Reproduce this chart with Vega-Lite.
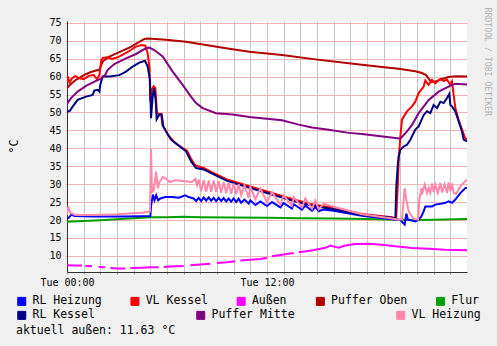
{
"$schema":"https://vega.github.io/schema/vega-lite/v6.json",
"width":400,"height":251,
"autosize":{"type":"none"},
"padding":{"left":67,"top":21,"right":30,"bottom":74},
"background":"#F0F0F0",
"config":{"view":{"fill":"white","stroke":null},"font":"DejaVu Sans Mono"},
"title":{"text":"aktuell außen: 11.63 °C","orient":"bottom","anchor":"start","frame":"group","dx":-51,"offset":3,"font":"DejaVu Sans Mono","fontSize":11.5,"fontWeight":"normal","color":"black"},
"data":{"values":[
{"s":"Puffer Oben","h":0,"v":56.8},{"s":"Puffer Oben","h":0.25,"v":58.0},{"s":"Puffer Oben","h":0.54,"v":59.1},{"s":"Puffer Oben","h":1.04,"v":60.5},{"s":"Puffer Oben","h":1.4,"v":61.2},{"s":"Puffer Oben","h":1.74,"v":61.7},{"s":"Puffer Oben","h":1.94,"v":61.9},{"s":"Puffer Oben","h":2.14,"v":64.2},{"s":"Puffer Oben","h":2.54,"v":65.6},{"s":"Puffer Oben","h":3.14,"v":66.8},{"s":"Puffer Oben","h":3.74,"v":68.1},{"s":"Puffer Oben","h":4.14,"v":69.1},{"s":"Puffer Oben","h":4.64,"v":70.5},{"s":"Puffer Oben","h":4.84,"v":70.6},{"s":"Puffer Oben","h":5.94,"v":70.3},{"s":"Puffer Oben","h":7.14,"v":69.7},{"s":"Puffer Oben","h":8.34,"v":68.8},{"s":"Puffer Oben","h":9.54,"v":67.9},{"s":"Puffer Oben","h":10.94,"v":66.9},{"s":"Puffer Oben","h":12.9,"v":66.0},{"s":"Puffer Oben","h":14.9,"v":64.8},{"s":"Puffer Oben","h":16.9,"v":63.7},{"s":"Puffer Oben","h":18.9,"v":62.7},{"s":"Puffer Oben","h":19.9,"v":62.2},{"s":"Puffer Oben","h":20.9,"v":61.5},{"s":"Puffer Oben","h":21.3,"v":61.0},{"s":"Puffer Oben","h":21.55,"v":60.4},{"s":"Puffer Oben","h":21.7,"v":59.4},{"s":"Puffer Oben","h":21.85,"v":58.5},{"s":"Puffer Oben","h":22.1,"v":58.6},{"s":"Puffer Oben","h":22.4,"v":59.2},{"s":"Puffer Oben","h":22.9,"v":59.9},{"s":"Puffer Oben","h":23.3,"v":60.1},{"s":"Puffer Oben","h":24,"v":60.0},

{"s":"VL Kessel","h":0,"v":58.5},{"s":"VL Kessel","h":0.05,"v":60.0},{"s":"VL Kessel","h":0.15,"v":58.3},{"s":"VL Kessel","h":0.3,"v":59.5},{"s":"VL Kessel","h":0.5,"v":60.2},{"s":"VL Kessel","h":0.7,"v":59.6},{"s":"VL Kessel","h":1.0,"v":59.3},{"s":"VL Kessel","h":1.3,"v":60.2},{"s":"VL Kessel","h":1.6,"v":60.5},{"s":"VL Kessel","h":1.8,"v":59.2},{"s":"VL Kessel","h":1.95,"v":60.5},{"s":"VL Kessel","h":2.05,"v":64.5},{"s":"VL Kessel","h":2.15,"v":65.2},{"s":"VL Kessel","h":2.4,"v":65.4},{"s":"VL Kessel","h":2.7,"v":64.9},{"s":"VL Kessel","h":3.1,"v":65.5},{"s":"VL Kessel","h":3.7,"v":67.0},{"s":"VL Kessel","h":4.1,"v":68.3},{"s":"VL Kessel","h":4.45,"v":68.8},{"s":"VL Kessel","h":4.7,"v":68.6},{"s":"VL Kessel","h":4.84,"v":66.5},{"s":"VL Kessel","h":4.94,"v":62.8},{"s":"VL Kessel","h":5.0,"v":53.0},{"s":"VL Kessel","h":5.1,"v":56.5},{"s":"VL Kessel","h":5.2,"v":57.3},{"s":"VL Kessel","h":5.3,"v":56.8},{"s":"VL Kessel","h":5.4,"v":49.8},{"s":"VL Kessel","h":5.55,"v":49.5},{"s":"VL Kessel","h":5.65,"v":49.6},{"s":"VL Kessel","h":5.72,"v":46.5},{"s":"VL Kessel","h":5.9,"v":45.2},{"s":"VL Kessel","h":6.1,"v":43.5},{"s":"VL Kessel","h":6.5,"v":41.5},{"s":"VL Kessel","h":6.8,"v":40.5},{"s":"VL Kessel","h":7.2,"v":39.3},{"s":"VL Kessel","h":7.45,"v":37.0},{"s":"VL Kessel","h":7.7,"v":35.2},{"s":"VL Kessel","h":8.2,"v":34.5},{"s":"VL Kessel","h":8.8,"v":33.1},{"s":"VL Kessel","h":9.6,"v":31.3},{"s":"VL Kessel","h":10.6,"v":29.9},{"s":"VL Kessel","h":11.6,"v":28.5},{"s":"VL Kessel","h":12.6,"v":27.1},{"s":"VL Kessel","h":13.6,"v":25.7},{"s":"VL Kessel","h":14.6,"v":24.5},{"s":"VL Kessel","h":16,"v":23.4},{"s":"VL Kessel","h":17.7,"v":21.7},{"s":"VL Kessel","h":19.5,"v":20.8},{"s":"VL Kessel","h":19.75,"v":20.4},{"s":"VL Kessel","h":19.85,"v":30.0},{"s":"VL Kessel","h":19.9,"v":36.8},{"s":"VL Kessel","h":20.0,"v":43.3},{"s":"VL Kessel","h":20.1,"v":48.0},{"s":"VL Kessel","h":20.4,"v":50.3},{"s":"VL Kessel","h":20.7,"v":51.7},{"s":"VL Kessel","h":20.9,"v":53.0},{"s":"VL Kessel","h":21.1,"v":55.4},{"s":"VL Kessel","h":21.4,"v":57.2},{"s":"VL Kessel","h":21.5,"v":58.9},{"s":"VL Kessel","h":21.7,"v":57.7},{"s":"VL Kessel","h":21.9,"v":59.1},{"s":"VL Kessel","h":22.1,"v":58.1},{"s":"VL Kessel","h":22.4,"v":59.3},{"s":"VL Kessel","h":22.6,"v":58.8},{"s":"VL Kessel","h":22.8,"v":59.1},{"s":"VL Kessel","h":23.0,"v":57.7},{"s":"VL Kessel","h":23.1,"v":58.6},{"s":"VL Kessel","h":23.2,"v":54.9},{"s":"VL Kessel","h":23.3,"v":51.2},{"s":"VL Kessel","h":23.5,"v":47.9},{"s":"VL Kessel","h":23.7,"v":45.2},{"s":"VL Kessel","h":23.9,"v":42.8},{"s":"VL Kessel","h":24,"v":42.4},

{"s":"Außen","h":0,"v":7.4},{"s":"Außen","h":0.5,"v":7.3},{"s":"Außen","h":0.9,"v":7.3},{"s":"Außen","h":1.0,"v":null},{"s":"Außen","h":1.1,"v":7.2},{"s":"Außen","h":1.5,"v":7.1},{"s":"Außen","h":1.7,"v":null},{"s":"Außen","h":1.9,"v":6.9},{"s":"Außen","h":2.3,"v":6.8},{"s":"Außen","h":2.45,"v":null},{"s":"Außen","h":2.6,"v":6.6},{"s":"Außen","h":3.0,"v":6.5},{"s":"Außen","h":3.5,"v":6.5},{"s":"Außen","h":3.6,"v":null},{"s":"Außen","h":3.8,"v":6.6},{"s":"Außen","h":4.5,"v":6.7},{"s":"Außen","h":5.0,"v":6.8},{"s":"Außen","h":5.5,"v":6.8},{"s":"Außen","h":5.6,"v":null},{"s":"Außen","h":5.8,"v":6.9},{"s":"Außen","h":6.5,"v":7.1},{"s":"Außen","h":7.0,"v":7.2},{"s":"Außen","h":7.15,"v":null},{"s":"Außen","h":7.4,"v":7.4},{"s":"Außen","h":8.0,"v":7.6},{"s":"Außen","h":8.6,"v":7.8},{"s":"Außen","h":8.75,"v":null},{"s":"Außen","h":9.0,"v":8.0},{"s":"Außen","h":9.6,"v":8.2},{"s":"Außen","h":10.1,"v":8.5},{"s":"Außen","h":10.25,"v":null},{"s":"Außen","h":10.4,"v":8.7},{"s":"Außen","h":11.0,"v":8.9},{"s":"Außen","h":11.6,"v":9.1},{"s":"Außen","h":12.0,"v":9.5},{"s":"Außen","h":12.15,"v":null},{"s":"Außen","h":12.3,"v":9.9},{"s":"Außen","h":13.0,"v":10.4},{"s":"Außen","h":13.6,"v":10.8},{"s":"Außen","h":13.75,"v":null},{"s":"Außen","h":13.9,"v":11.0},{"s":"Außen","h":14.6,"v":11.4},{"s":"Außen","h":15.2,"v":12.0},{"s":"Außen","h":15.6,"v":12.4},{"s":"Außen","h":15.8,"v":12.9},{"s":"Außen","h":16.3,"v":12.3},{"s":"Außen","h":16.7,"v":12.9},{"s":"Außen","h":17.3,"v":13.3},{"s":"Außen","h":18.1,"v":13.4},{"s":"Außen","h":18.9,"v":13.1},{"s":"Außen","h":19.7,"v":12.7},{"s":"Außen","h":20.7,"v":12.2},{"s":"Außen","h":21.7,"v":12.0},{"s":"Außen","h":22.7,"v":11.7},{"s":"Außen","h":24,"v":11.6},

{"s":"Flur","h":0,"v":19.5},{"s":"Flur","h":1,"v":19.7},{"s":"Flur","h":2,"v":19.9},{"s":"Flur","h":3,"v":20.2},{"s":"Flur","h":4,"v":20.5},{"s":"Flur","h":5,"v":20.8},{"s":"Flur","h":6,"v":20.8},{"s":"Flur","h":7,"v":20.9},{"s":"Flur","h":8,"v":20.8},{"s":"Flur","h":10,"v":20.7},{"s":"Flur","h":12,"v":20.6},{"s":"Flur","h":14,"v":20.5},{"s":"Flur","h":16,"v":20.4},{"s":"Flur","h":18,"v":20.3},{"s":"Flur","h":20,"v":20.1},{"s":"Flur","h":21,"v":20.0},{"s":"Flur","h":22,"v":20.1},{"s":"Flur","h":24,"v":20.3},

{"s":"RL Heizung","h":0,"v":20.4},{"s":"RL Heizung","h":0.1,"v":20.6},{"s":"RL Heizung","h":0.26,"v":21.5},{"s":"RL Heizung","h":0.45,"v":21.1},{"s":"RL Heizung","h":1.5,"v":21.0},{"s":"RL Heizung","h":3.5,"v":21.0},{"s":"RL Heizung","h":5.0,"v":21.1},{"s":"RL Heizung","h":5.05,"v":24.1},{"s":"RL Heizung","h":5.15,"v":27.1},{"s":"RL Heizung","h":5.25,"v":25.5},{"s":"RL Heizung","h":5.35,"v":26.9},{"s":"RL Heizung","h":5.47,"v":25.5},{"s":"RL Heizung","h":5.6,"v":26.0},{"s":"RL Heizung","h":5.9,"v":26.4},{"s":"RL Heizung","h":6.3,"v":26.4},{"s":"RL Heizung","h":6.7,"v":26.2},{"s":"RL Heizung","h":7.1,"v":26.9},{"s":"RL Heizung","h":7.3,"v":26.4},{"s":"RL Heizung","h":7.6,"v":26.0},{"s":"RL Heizung","h":7.75,"v":25.3},{"s":"RL Heizung","h":7.9,"v":26.2},{"s":"RL Heizung","h":8.05,"v":25.3},{"s":"RL Heizung","h":8.2,"v":26.3},{"s":"RL Heizung","h":8.35,"v":25.4},{"s":"RL Heizung","h":8.5,"v":26.3},{"s":"RL Heizung","h":8.65,"v":25.4},{"s":"RL Heizung","h":8.8,"v":26.2},{"s":"RL Heizung","h":8.95,"v":25.3},{"s":"RL Heizung","h":9.1,"v":26.2},{"s":"RL Heizung","h":9.25,"v":25.3},{"s":"RL Heizung","h":9.4,"v":26.1},{"s":"RL Heizung","h":9.55,"v":25.2},{"s":"RL Heizung","h":9.7,"v":26.0},{"s":"RL Heizung","h":9.85,"v":25.1},{"s":"RL Heizung","h":10.0,"v":26.0},{"s":"RL Heizung","h":10.15,"v":25.0},{"s":"RL Heizung","h":10.3,"v":25.9},{"s":"RL Heizung","h":10.45,"v":24.8},{"s":"RL Heizung","h":10.65,"v":25.7},{"s":"RL Heizung","h":10.9,"v":24.6},{"s":"RL Heizung","h":11.0,"v":25.5},{"s":"RL Heizung","h":11.3,"v":24.2},{"s":"RL Heizung","h":11.6,"v":25.2},{"s":"RL Heizung","h":12.0,"v":23.9},{"s":"RL Heizung","h":12.3,"v":25.0},{"s":"RL Heizung","h":12.8,"v":23.5},{"s":"RL Heizung","h":13.0,"v":24.7},{"s":"RL Heizung","h":13.5,"v":23.2},{"s":"RL Heizung","h":13.6,"v":24.4},{"s":"RL Heizung","h":14.1,"v":22.9},{"s":"RL Heizung","h":14.3,"v":24.0},{"s":"RL Heizung","h":14.7,"v":22.6},{"s":"RL Heizung","h":14.9,"v":23.6},{"s":"RL Heizung","h":15.1,"v":22.5},{"s":"RL Heizung","h":15.4,"v":22.9},{"s":"RL Heizung","h":16.0,"v":22.6},{"s":"RL Heizung","h":17.7,"v":21.2},{"s":"RL Heizung","h":19.5,"v":20.2},{"s":"RL Heizung","h":20.0,"v":20.0},{"s":"RL Heizung","h":20.26,"v":18.7},{"s":"RL Heizung","h":20.36,"v":21.8},{"s":"RL Heizung","h":20.46,"v":20.1},{"s":"RL Heizung","h":20.9,"v":19.6},{"s":"RL Heizung","h":21.1,"v":20.1},{"s":"RL Heizung","h":21.26,"v":21.0},{"s":"RL Heizung","h":21.4,"v":22.4},{"s":"RL Heizung","h":21.5,"v":23.8},{"s":"RL Heizung","h":21.9,"v":23.8},{"s":"RL Heizung","h":22.1,"v":24.3},{"s":"RL Heizung","h":22.5,"v":24.6},{"s":"RL Heizung","h":22.7,"v":24.8},{"s":"RL Heizung","h":22.9,"v":25.2},{"s":"RL Heizung","h":23.1,"v":24.8},{"s":"RL Heizung","h":23.3,"v":25.7},{"s":"RL Heizung","h":23.6,"v":27.5},{"s":"RL Heizung","h":23.9,"v":28.9},{"s":"RL Heizung","h":24,"v":29.0},

{"s":"RL Kessel","h":0,"v":50.3},{"s":"RL Kessel","h":0.15,"v":50.3},{"s":"RL Kessel","h":0.35,"v":51.7},{"s":"RL Kessel","h":0.64,"v":53.5},{"s":"RL Kessel","h":1.14,"v":54.4},{"s":"RL Kessel","h":1.54,"v":54.9},{"s":"RL Kessel","h":1.64,"v":56.1},{"s":"RL Kessel","h":1.84,"v":56.3},{"s":"RL Kessel","h":1.94,"v":55.8},{"s":"RL Kessel","h":2.0,"v":57.7},{"s":"RL Kessel","h":2.14,"v":60.0},{"s":"RL Kessel","h":2.54,"v":60.0},{"s":"RL Kessel","h":3.14,"v":60.4},{"s":"RL Kessel","h":3.54,"v":61.4},{"s":"RL Kessel","h":3.94,"v":62.8},{"s":"RL Kessel","h":4.34,"v":63.9},{"s":"RL Kessel","h":4.68,"v":64.4},{"s":"RL Kessel","h":4.84,"v":62.8},{"s":"RL Kessel","h":4.98,"v":59.1},{"s":"RL Kessel","h":5.04,"v":48.4},{"s":"RL Kessel","h":5.14,"v":54.4},{"s":"RL Kessel","h":5.22,"v":56.8},{"s":"RL Kessel","h":5.32,"v":53.5},{"s":"RL Kessel","h":5.38,"v":48.1},{"s":"RL Kessel","h":5.54,"v":49.4},{"s":"RL Kessel","h":5.68,"v":49.4},{"s":"RL Kessel","h":5.78,"v":46.1},{"s":"RL Kessel","h":5.94,"v":44.7},{"s":"RL Kessel","h":6.24,"v":42.4},{"s":"RL Kessel","h":6.74,"v":40.6},{"s":"RL Kessel","h":7.14,"v":39.2},{"s":"RL Kessel","h":7.44,"v":36.4},{"s":"RL Kessel","h":7.74,"v":34.5},{"s":"RL Kessel","h":8.2,"v":34.1},{"s":"RL Kessel","h":8.8,"v":32.7},{"s":"RL Kessel","h":9.6,"v":30.9},{"s":"RL Kessel","h":10.6,"v":29.5},{"s":"RL Kessel","h":11.6,"v":28.1},{"s":"RL Kessel","h":12.6,"v":26.7},{"s":"RL Kessel","h":13.6,"v":25.3},{"s":"RL Kessel","h":14.6,"v":24.1},{"s":"RL Kessel","h":16,"v":23.0},{"s":"RL Kessel","h":17.7,"v":21.4},{"s":"RL Kessel","h":19.5,"v":20.6},{"s":"RL Kessel","h":19.7,"v":20.3},{"s":"RL Kessel","h":19.76,"v":29.4},{"s":"RL Kessel","h":19.84,"v":35.0},{"s":"RL Kessel","h":19.9,"v":37.7},{"s":"RL Kessel","h":20.0,"v":39.6},{"s":"RL Kessel","h":20.2,"v":40.5},{"s":"RL Kessel","h":20.4,"v":41.0},{"s":"RL Kessel","h":20.6,"v":42.4},{"s":"RL Kessel","h":20.9,"v":45.2},{"s":"RL Kessel","h":21.1,"v":46.1},{"s":"RL Kessel","h":21.4,"v":49.3},{"s":"RL Kessel","h":21.6,"v":50.3},{"s":"RL Kessel","h":21.8,"v":49.8},{"s":"RL Kessel","h":22.0,"v":52.1},{"s":"RL Kessel","h":22.2,"v":51.2},{"s":"RL Kessel","h":22.4,"v":53.0},{"s":"RL Kessel","h":22.6,"v":52.6},{"s":"RL Kessel","h":22.8,"v":54.0},{"s":"RL Kessel","h":22.94,"v":55.2},{"s":"RL Kessel","h":23.0,"v":52.1},{"s":"RL Kessel","h":23.1,"v":51.7},{"s":"RL Kessel","h":23.3,"v":50.3},{"s":"RL Kessel","h":23.5,"v":47.5},{"s":"RL Kessel","h":23.7,"v":44.7},{"s":"RL Kessel","h":23.8,"v":42.4},{"s":"RL Kessel","h":24,"v":41.9},

{"s":"Puffer Mitte","h":0,"v":52.4},{"s":"Puffer Mitte","h":0.24,"v":54.0},{"s":"Puffer Mitte","h":0.64,"v":55.8},{"s":"Puffer Mitte","h":1.14,"v":57.4},{"s":"Puffer Mitte","h":1.74,"v":58.8},{"s":"Puffer Mitte","h":2.04,"v":59.4},{"s":"Puffer Mitte","h":2.3,"v":60.5},{"s":"Puffer Mitte","h":2.44,"v":61.9},{"s":"Puffer Mitte","h":2.84,"v":63.5},{"s":"Puffer Mitte","h":3.54,"v":65.1},{"s":"Puffer Mitte","h":4.14,"v":66.3},{"s":"Puffer Mitte","h":4.74,"v":67.9},{"s":"Puffer Mitte","h":4.94,"v":68.1},{"s":"Puffer Mitte","h":5.24,"v":67.4},{"s":"Puffer Mitte","h":5.74,"v":65.6},{"s":"Puffer Mitte","h":6.34,"v":61.4},{"s":"Puffer Mitte","h":6.94,"v":57.7},{"s":"Puffer Mitte","h":7.44,"v":54.4},{"s":"Puffer Mitte","h":7.74,"v":52.6},{"s":"Puffer Mitte","h":8.14,"v":51.2},{"s":"Puffer Mitte","h":8.94,"v":49.8},{"s":"Puffer Mitte","h":9.94,"v":49.4},{"s":"Puffer Mitte","h":10.94,"v":48.7},{"s":"Puffer Mitte","h":12.9,"v":47.8},{"s":"Puffer Mitte","h":13.9,"v":46.6},{"s":"Puffer Mitte","h":14.7,"v":45.8},{"s":"Puffer Mitte","h":15.7,"v":45.2},{"s":"Puffer Mitte","h":16.9,"v":44.3},{"s":"Puffer Mitte","h":17.7,"v":44.0},{"s":"Puffer Mitte","h":19.7,"v":42.9},{"s":"Puffer Mitte","h":20.0,"v":42.7},{"s":"Puffer Mitte","h":20.4,"v":44.7},{"s":"Puffer Mitte","h":20.7,"v":46.5},{"s":"Puffer Mitte","h":21.1,"v":49.8},{"s":"Puffer Mitte","h":21.7,"v":53.5},{"s":"Puffer Mitte","h":22.3,"v":55.8},{"s":"Puffer Mitte","h":23.1,"v":57.7},{"s":"Puffer Mitte","h":23.3,"v":58.0},{"s":"Puffer Mitte","h":24,"v":57.8},

{"s":"VL Heizung","h":0,"v":21.5},{"s":"VL Heizung","h":0.08,"v":23.8},{"s":"VL Heizung","h":0.2,"v":22.0},{"s":"VL Heizung","h":0.5,"v":21.4},{"s":"VL Heizung","h":1.5,"v":21.4},{"s":"VL Heizung","h":3.0,"v":21.6},{"s":"VL Heizung","h":4.5,"v":22.0},{"s":"VL Heizung","h":4.98,"v":22.4},{"s":"VL Heizung","h":5.04,"v":39.9},{"s":"VL Heizung","h":5.1,"v":27.8},{"s":"VL Heizung","h":5.2,"v":28.3},{"s":"VL Heizung","h":5.35,"v":33.5},{"s":"VL Heizung","h":5.45,"v":28.8},{"s":"VL Heizung","h":5.55,"v":30.6},{"s":"VL Heizung","h":5.75,"v":32.0},{"s":"VL Heizung","h":5.95,"v":31.5},{"s":"VL Heizung","h":6.15,"v":30.6},{"s":"VL Heizung","h":6.5,"v":31.1},{"s":"VL Heizung","h":7.1,"v":30.8},{"s":"VL Heizung","h":7.5,"v":30.6},{"s":"VL Heizung","h":7.7,"v":31.5},{"s":"VL Heizung","h":7.8,"v":29.7},{"s":"VL Heizung","h":7.9,"v":31.3},{"s":"VL Heizung","h":8.05,"v":28.0},{"s":"VL Heizung","h":8.2,"v":31.2},{"s":"VL Heizung","h":8.35,"v":27.9},{"s":"VL Heizung","h":8.5,"v":31.0},{"s":"VL Heizung","h":8.65,"v":27.8},{"s":"VL Heizung","h":8.8,"v":31.0},{"s":"VL Heizung","h":8.95,"v":27.8},{"s":"VL Heizung","h":9.1,"v":30.8},{"s":"VL Heizung","h":9.25,"v":27.6},{"s":"VL Heizung","h":9.4,"v":30.6},{"s":"VL Heizung","h":9.55,"v":27.5},{"s":"VL Heizung","h":9.7,"v":30.4},{"s":"VL Heizung","h":9.85,"v":27.3},{"s":"VL Heizung","h":10.0,"v":30.2},{"s":"VL Heizung","h":10.15,"v":27.2},{"s":"VL Heizung","h":10.3,"v":30.0},{"s":"VL Heizung","h":10.45,"v":27.0},{"s":"VL Heizung","h":10.65,"v":29.6},{"s":"VL Heizung","h":10.9,"v":26.2},{"s":"VL Heizung","h":11.0,"v":29.2},{"s":"VL Heizung","h":11.3,"v":25.8},{"s":"VL Heizung","h":11.6,"v":28.8},{"s":"VL Heizung","h":12.0,"v":25.0},{"s":"VL Heizung","h":12.3,"v":27.8},{"s":"VL Heizung","h":12.8,"v":24.3},{"s":"VL Heizung","h":13.0,"v":26.9},{"s":"VL Heizung","h":13.5,"v":24.0},{"s":"VL Heizung","h":13.6,"v":26.4},{"s":"VL Heizung","h":14.1,"v":23.5},{"s":"VL Heizung","h":14.3,"v":26.0},{"s":"VL Heizung","h":14.7,"v":23.2},{"s":"VL Heizung","h":14.9,"v":25.4},{"s":"VL Heizung","h":15.1,"v":23.0},{"s":"VL Heizung","h":15.4,"v":24.5},{"s":"VL Heizung","h":16.0,"v":23.7},{"s":"VL Heizung","h":17.7,"v":21.6},{"s":"VL Heizung","h":19.5,"v":20.4},{"s":"VL Heizung","h":19.9,"v":20.1},{"s":"VL Heizung","h":20.1,"v":20.2},{"s":"VL Heizung","h":20.26,"v":28.9},{"s":"VL Heizung","h":20.36,"v":25.7},{"s":"VL Heizung","h":20.5,"v":22.4},{"s":"VL Heizung","h":20.8,"v":20.3},{"s":"VL Heizung","h":21.06,"v":20.1},{"s":"VL Heizung","h":21.14,"v":25.7},{"s":"VL Heizung","h":21.26,"v":28.9},{"s":"VL Heizung","h":21.3,"v":27.1},{"s":"VL Heizung","h":21.46,"v":29.9},{"s":"VL Heizung","h":21.6,"v":27.5},{"s":"VL Heizung","h":21.7,"v":28.9},{"s":"VL Heizung","h":21.8,"v":27.6},{"s":"VL Heizung","h":21.9,"v":30.2},{"s":"VL Heizung","h":22.0,"v":27.8},{"s":"VL Heizung","h":22.1,"v":29.8},{"s":"VL Heizung","h":22.25,"v":27.5},{"s":"VL Heizung","h":22.4,"v":30.3},{"s":"VL Heizung","h":22.5,"v":27.7},{"s":"VL Heizung","h":22.65,"v":30.0},{"s":"VL Heizung","h":22.8,"v":27.6},{"s":"VL Heizung","h":22.9,"v":30.5},{"s":"VL Heizung","h":23.0,"v":28.0},{"s":"VL Heizung","h":23.1,"v":30.2},{"s":"VL Heizung","h":23.2,"v":27.5},{"s":"VL Heizung","h":23.35,"v":27.3},{"s":"VL Heizung","h":23.6,"v":29.4},{"s":"VL Heizung","h":23.9,"v":30.8},{"s":"VL Heizung","h":24,"v":31.2}
]},
"layer":[
{
"transform":[{"filter":{"field":"s","oneOf":["RL Heizung","VL Kessel","Außen","Puffer Oben","Flur"]}}],
"mark":{"type":"line","strokeWidth":2,"invalid":"break-paths-show-domains","clip":true},
"encoding":{
"x":{"field":"h","type":"quantitative","scale":{"domain":[0,24],"nice":false,"zero":false},
"axis":{"orient":"bottom","title":null,"values":[0,1,2,3,4,5,6,7,8,9,10,11,12,13,14,15,16,17,18,19,20,21,22,23],"labelExpr":"datum.value == 0 ? 'Tue 00:00' : (datum.value == 12 ? 'Tue 12:00' : '')","labelOverlap":false,"labelFont":"DejaVu Sans Mono","labelFontSize":10,"labelColor":"black","labelPadding":3,"labelFlush":false,"grid":false,"ticks":true,"tickSize":2,"tickColor":"#A0A0A0","domain":true,"domainColor":"#303030","domainWidth":1,"zindex":1}},
"y":{"field":"v","type":"quantitative","scale":{"domain":[5.5,75.5],"nice":false,"zero":false},
"axis":{"orient":"left","title":"°C","titleFont":"DejaVu Sans Mono","titleFontSize":11.5,"titleFontWeight":"normal","titleColor":"black","titleX":-53,"titleY":125,"titleAlign":"center","titleBaseline":"middle","titleAngle":270,"values":[10,15,20,25,30,35,40,45,50,55,60,65,70,75],"labelFont":"DejaVu Sans Mono","labelFontSize":10,"labelColor":"black","labelPadding":4,"grid":true,"gridColor":"#F2B4B4","ticks":true,"tickSize":2,"tickColor":"#F2B4B4","domain":true,"domainColor":"#303030","domainWidth":1}},
"color":{"field":"s","type":"nominal","scale":{"domain":["RL Heizung","VL Kessel","Außen","Puffer Oben","Flur"],"range":["#0000FF","#FF0000","#FF00FF","#B00000","#00A000"]},
"legend":{"orient":"none","legendX":-51,"legendY":274.5,"direction":"horizontal","columns":5,"title":null,"symbolType":"square","symbolSize":64,"symbolStrokeWidth":1,"labelFont":"DejaVu Sans Mono","labelFontSize":11.5,"labelColor":"black","labelOffset":5,"columnPadding":26.2,"padding":0,"encode":{"symbols":{"update":{"fill":{"scale":"color","field":"value"},"stroke":{"value":"black"},"strokeWidth":{"value":1},"opacity":{"value":1}}}}}}
}
},
{
"transform":[{"filter":{"field":"s","oneOf":["RL Kessel","Puffer Mitte","VL Heizung"]}}],
"mark":{"type":"line","strokeWidth":2,"clip":true},
"encoding":{
"x":{"field":"h","type":"quantitative","scale":{"domain":[0,24],"nice":false,"zero":false},
"axis":{"orient":"bottom","title":null,"values":[1,2,3,4,5,6,7,8,9,10,11,12,13,14,15,16,17,18,19,20,21,22,23],"labels":false,"ticks":false,"domain":false,"grid":true,"gridColor":{"condition":{"test":"datum.value % 6 === 0","value":"#F2B4B4"},"value":"#C4C4C4"},"gridWidth":1}},
"y":{"field":"v","type":"quantitative","scale":{"domain":[5.5,75.5],"nice":false,"zero":false},
"axis":{"orient":"right","title":"RRDTOOL / TOBI OETIKER","titleFont":"DejaVu Sans Mono","titleFontSize":8.2,"titleFontWeight":"normal","titleColor":"#B4B4B4","titleAngle":90,"titleX":19.7,"titleY":-14,"titleAlign":"left","titleBaseline":"middle","labels":false,"ticks":false,"domain":false,"grid":false}},
"stroke":{"field":"s","type":"nominal","scale":{"domain":["RL Kessel","Puffer Mitte","VL Heizung"],"range":["#000080","#800080","#FF88AA"]},
"legend":{"orient":"none","legendX":-51,"legendY":288.5,"direction":"horizontal","columns":3,"title":null,"symbolType":"square","symbolSize":64,"symbolStrokeWidth":1,"labelFont":"DejaVu Sans Mono","labelFontSize":11.5,"labelColor":"black","labelOffset":5,"columnPadding":99,"padding":0,"encode":{"symbols":{"update":{"fill":{"scale":"stroke","field":"value"},"stroke":{"value":"black"},"strokeWidth":{"value":1},"opacity":{"value":1}}}}}}
}
}
],
"resolve":{"axis":{"x":"independent","y":"independent"}}
}
